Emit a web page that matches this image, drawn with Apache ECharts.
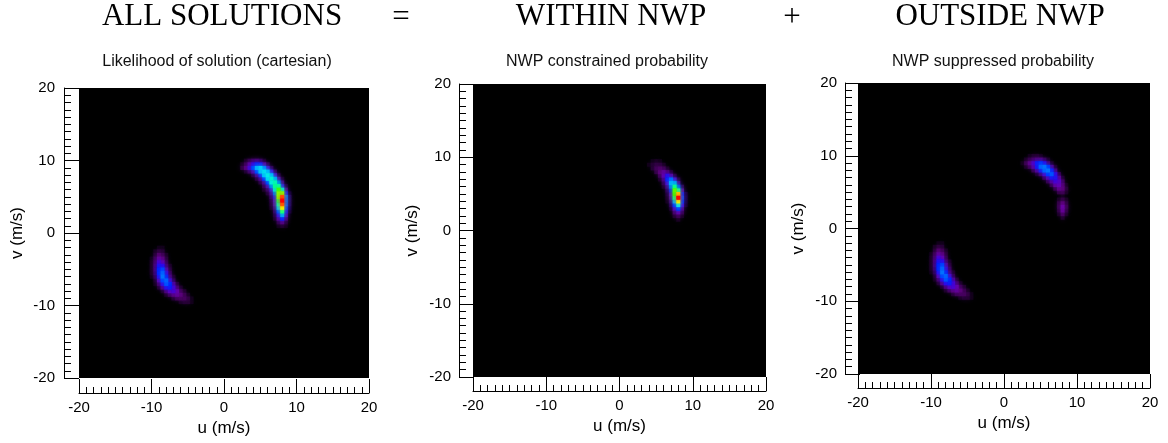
<!DOCTYPE html>
<html><head><meta charset="utf-8">
<script src="https://cdn.jsdelivr.net/npm/echarts@6/dist/echarts.min.js"></script>
<style>html,body{margin:0;padding:0;background:#fff}#c{width:1168px;height:443px}</style>
</head><body><div id="c"></div>
<script>
// ---------- data ----------
const axisMin = -20, axisMax = 20, majorStep = 10, minorSplit = 10;
const cellStep = 0.5;                      // grid spacing of the probability field (m/s)
const mainTitles = ['ALL SOLUTIONS', 'WITHIN NWP', 'OUTSIDE NWP'];
const operators = ['=', '+'];
const panelTitles = ['Likelihood of solution (cartesian)', 'NWP constrained probability', 'NWP suppressed probability'];
const xAxisName = 'u (m/s)';
const yAxisName = 'v (m/s)';

// each row: [v, first u of row, [values for u, u+0.5, ...]]  (relative probability 0-100)
const allUpper = [
  [10.0, 3.0, [4, 8, 12, 14, 10, 4]],
  [9.5, 2.5, [4, 10, 20, 30, 36, 34, 20, 8]],
  [9.0, 2.5, [8, 16, 28, 42, 54, 58, 48, 26, 8]],
  [8.5, 3.0, [4, 10, 20, 40, 56, 60, 54, 30, 8]],
  [8.0, 4.0, [6, 16, 34, 56, 62, 54, 26, 6]],
  [7.5, 4.5, [6, 16, 36, 58, 64, 52, 20, 4]],
  [7.0, 5.0, [6, 16, 38, 62, 66, 46, 14]],
  [6.5, 5.5, [8, 20, 46, 68, 66, 30, 5]],
  [6.0, 5.5, [4, 10, 26, 58, 76, 58, 16]],
  [5.5, 6.0, [5, 16, 44, 80, 80, 34, 4]],
  [5.0, 6.5, [10, 32, 80, 95, 48, 8]],
  [4.5, 6.5, [6, 24, 72, 100, 48, 8]],
  [4.0, 6.5, [5, 20, 66, 94, 46, 8]],
  [3.5, 6.5, [4, 14, 54, 84, 40, 6]],
  [3.0, 7.0, [10, 40, 70, 32, 4]],
  [2.5, 7.0, [6, 28, 52, 22]],
  [2.0, 7.0, [4, 18, 36, 14]],
  [1.5, 7.5, [8, 16, 6]],
  [1.0, 7.5, [3, 5, 3]]
];
const allLower = [
  [-2.0, -9.0, [3, 3]],
  [-2.5, -9.5, [4, 7, 6]],
  [-3.0, -9.5, [6, 14, 10, 4]],
  [-3.5, -10.0, [3, 10, 20, 16, 6]],
  [-4.0, -10.0, [4, 12, 28, 22, 8]],
  [-4.5, -10.0, [4, 14, 34, 32, 12, 4]],
  [-5.0, -10.0, [4, 14, 38, 42, 20, 6]],
  [-5.5, -10.0, [4, 12, 38, 46, 28, 10]],
  [-6.0, -10.0, [3, 8, 32, 48, 36, 14, 4]],
  [-6.5, -9.5, [4, 22, 42, 46, 26, 8]],
  [-7.0, -9.5, [3, 12, 30, 44, 38, 18, 5]],
  [-7.5, -9.0, [5, 16, 32, 36, 28, 12, 4]],
  [-8.0, -8.5, [4, 14, 24, 28, 22, 10, 5]],
  [-8.5, -8.0, [4, 10, 16, 20, 16, 10, 4]],
  [-9.0, -7.0, [5, 10, 12, 12, 8, 3]],
  [-9.5, -6.0, [4, 6, 6, 3]]
];
const withinUpper = [
  [9.5, 4.5, [3, 4, 3]],
  [9.0, 4.0, [3, 6, 8, 7, 4]],
  [8.5, 4.5, [6, 11, 13, 10, 4]],
  [8.0, 5.0, [8, 16, 20, 14, 5]],
  [7.5, 5.5, [10, 22, 32, 20, 6]],
  [7.0, 5.5, [4, 14, 36, 46, 26, 6]],
  [6.5, 6.0, [8, 26, 54, 52, 18]],
  [6.0, 6.0, [4, 14, 46, 68, 42, 8]],
  [5.5, 6.5, [8, 34, 78, 66, 20]],
  [5.0, 6.5, [5, 24, 76, 88, 36, 5]],
  [4.5, 6.5, [4, 18, 68, 100, 42, 6]],
  [4.0, 6.5, [3, 12, 52, 84, 38, 5]],
  [3.5, 7.0, [8, 38, 60, 28, 4]],
  [3.0, 7.0, [4, 22, 40, 16]],
  [2.5, 7.5, [12, 22, 9]],
  [2.0, 7.5, [5, 10, 4]],
  [1.5, 8.0, [4]]
];
const outsideUpper = [
  [10.0, 3.5, [3, 5, 5, 3]],
  [9.5, 3.0, [4, 8, 12, 16, 16, 10, 4]],
  [9.0, 2.5, [3, 10, 18, 26, 36, 40, 32, 14, 4]],
  [8.5, 3.0, [4, 10, 20, 34, 46, 48, 40, 18, 4]],
  [8.0, 4.0, [8, 18, 34, 46, 48, 36, 14]],
  [7.5, 4.5, [4, 12, 26, 40, 44, 30, 8]],
  [7.0, 5.5, [10, 22, 34, 34, 18, 4]],
  [6.5, 6.0, [8, 18, 28, 26, 10]],
  [6.0, 6.5, [8, 20, 24, 14, 3]],
  [5.5, 7.0, [8, 18, 16, 6]],
  [5.0, 7.5, [8, 10, 4]],
  [4.5, 8.0, [3]],
  [4.0, 7.5, [4, 8, 4]],
  [3.5, 7.5, [8, 16, 7]],
  [3.0, 7.5, [9, 22, 9]],
  [2.5, 7.5, [7, 20, 7]],
  [2.0, 7.5, [4, 12, 4]],
  [1.5, 8.0, [5]]
];
const outsideLower = [
  [-2.0, -9.0, [3, 3]],
  [-2.5, -9.5, [4, 7, 6]],
  [-3.0, -9.5, [6, 14, 10, 4]],
  [-3.5, -10.0, [3, 10, 20, 16, 6]],
  [-4.0, -10.0, [4, 12, 28, 22, 8]],
  [-4.5, -10.0, [4, 14, 34, 32, 12, 4]],
  [-5.0, -10.0, [4, 14, 38, 42, 20, 6]],
  [-5.5, -10.0, [4, 12, 38, 46, 28, 10]],
  [-6.0, -10.0, [3, 8, 32, 48, 36, 14, 4]],
  [-6.5, -9.5, [4, 22, 42, 46, 26, 8]],
  [-7.0, -9.5, [3, 12, 30, 44, 38, 18, 5]],
  [-7.5, -9.0, [5, 16, 32, 36, 28, 12, 4]],
  [-8.0, -8.5, [4, 14, 24, 28, 22, 10, 5]],
  [-8.5, -8.0, [4, 10, 16, 20, 16, 10, 4]],
  [-9.0, -7.0, [5, 10, 12, 12, 8, 3]],
  [-9.5, -6.0, [4, 6, 6, 3]]
];

// ---------- build ----------
function rowsToCells(rows) {
  const out = [];
  rows.forEach(([v, u0, vals]) => vals.forEach((val, k) => { if (val > 0) out.push([u0 + k * cellStep, v, val]); }));
  return out;
}
const byValue = (a, b) => a[2] - b[2];
const panelData = [
  rowsToCells(allUpper).concat(rowsToCells(allLower)).sort(byValue),
  rowsToCells(withinUpper).sort(byValue),
  rowsToCells(outsideUpper).concat(rowsToCells(outsideLower)).sort(byValue)
];

const SANS = '"Liberation Sans", Arial, Helvetica, sans-serif';
const SERIF = '"Liberation Serif", "Times New Roman", serif';
const layout = [
  { left: 79, top: 88, w: 290, h: 290, xOff: 15, yOff: 15, xGap: 19, yGap: 38, lx: 9, tx: 217, mx: 222 },
  { left: 473, top: 84, w: 293, h: 293, xOff: 14, yOff: 14, xGap: 25, yGap: 38, lx: 8, tx: 607, mx: 611 },
  { left: 858, top: 83, w: 292, h: 291, xOff: 14, yOff: 13, xGap: 26, yGap: 38, lx: 8, tx: 993, mx: 1000 }
];
const opX = [401, 792];

const grids = [], xAxes = [], yAxes = [], series = [], graphics = [];
layout.forEach((L, i) => {
  grids.push({ left: L.left, top: L.top, width: L.w, height: L.h, show: true, backgroundColor: '#000', borderWidth: 0, containLabel: false, outerBoundsMode: 'none' });
  const common = {
    gridIndex: i, type: 'value', min: axisMin, max: axisMax, interval: majorStep,
    axisLine: { show: true, onZero: false, lineStyle: { color: '#000', width: 1 } },
    splitLine: { show: false }, minorSplitLine: { show: false },
    nameLocation: 'middle',
    nameTextStyle: { fontSize: 17, color: '#000', fontFamily: SANS }
  };
  xAxes.push(Object.assign({}, common, {
    position: 'bottom', offset: L.xOff, name: xAxisName, nameGap: L.xGap,
    axisTick: { show: true, inside: true, length: 14, lineStyle: { color: '#000', width: 1 } },
    minorTick: { show: true, splitNumber: minorSplit, length: 6, lineStyle: { color: '#000', width: 1 } },
    axisLabel: { show: true, color: '#000', fontSize: 15, fontFamily: SANS, margin: 7, showMinLabel: true, showMaxLabel: true, hideOverlap: false }
  }));
  yAxes.push(Object.assign({}, common, {
    position: 'left', offset: L.yOff, name: yAxisName, nameGap: L.yGap,
    axisTick: { show: true, inside: true, length: 15, lineStyle: { color: '#000', width: 1 } },
    minorTick: { show: true, splitNumber: minorSplit, length: 7, lineStyle: { color: '#000', width: 1 } },
    axisLabel: { show: true, color: '#000', fontSize: 15, fontFamily: SANS, margin: L.lx, showMinLabel: true, showMaxLabel: true, hideOverlap: false }
  }));
  series.push({
    type: 'custom', coordinateSystem: 'cartesian2d', xAxisIndex: i, yAxisIndex: i,
    data: panelData[i], encode: { x: 0, y: 1 }, silent: true, clip: true,
    renderItem: function (params, api) {
      const u = api.value(0), v = api.value(1), h = cellStep / 2;
      const p0 = api.coord([u - h, v + h]);
      const p1 = api.coord([u + h, v - h]);
      const c = api.visual('color');
      return { type: 'rect', shape: { x: p0[0], y: p0[1], width: p1[0] - p0[0] + 0.4, height: p1[1] - p0[1] + 0.4 },
        style: { fill: c, shadowBlur: 5, shadowColor: c } };
    }
  });
  graphics.push({ type: 'text', x: L.mx, y: 17, style: { text: mainTitles[i], font: 'normal 31px ' + SERIF, fill: '#000', textAlign: 'center', textVerticalAlign: 'middle' } });
  graphics.push({ type: 'text', x: L.tx, y: 62, style: { text: panelTitles[i], font: 'normal 16px ' + SANS, fill: '#111', textAlign: 'center', textVerticalAlign: 'middle' } });
});
operators.forEach((op, k) => {
  graphics.push({ type: 'text', x: opX[k], y: 18, style: { text: op, font: 'normal 31px ' + SERIF, fill: '#000', textAlign: 'center', textVerticalAlign: 'middle' } });
});

const chart = echarts.init(document.getElementById('c'), null, { renderer: 'canvas' });
chart.setOption({
  animation: false,
  backgroundColor: '#fff',
  grid: grids, xAxis: xAxes, yAxis: yAxes, series: series, graphic: graphics,
  visualMap: {
    show: false, type: 'continuous', seriesIndex: [0, 1, 2], dimension: 2, min: 0, max: 100,
    inRange: { color: ['#000000', '#2e0040', '#560070', '#6a00a8', '#4000e0', '#0020ff', '#0060ff', '#00a8ff', '#00e8f0', '#00ff90', '#30ff00', '#ffff00', '#ff8000', '#ff0000'] }
  }
});
</script></body></html>
